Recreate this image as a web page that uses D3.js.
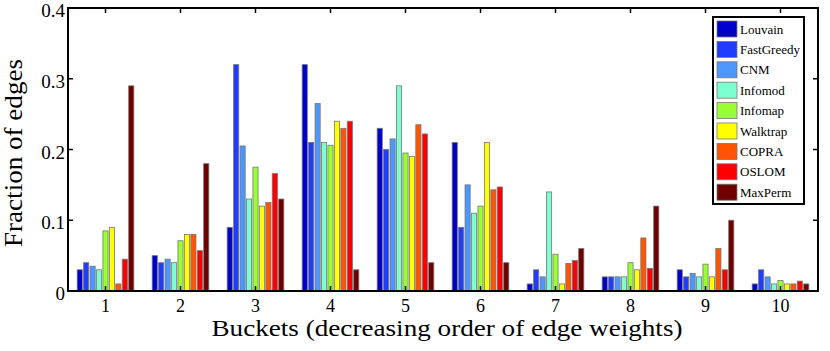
<!DOCTYPE html>
<html>
<head>
<meta charset="utf-8">
<script src="https://cdn.jsdelivr.net/npm/d3@7"></script>
<style>
  body { margin: 0; background: #fff; }
  svg text { font-family: "Liberation Serif", "Times New Roman", Times, "DejaVu Serif", serif !important; }
</style>
</head>
<body>
<div id="chart"></div>
<script>
const buckets = ['1', '2', '3', '4', '5', '6', '7', '8', '9', '10'];
const methods = ['Louvain', 'FastGreedy', 'CNM', 'Infomod', 'Infomap', 'Walktrap', 'COPRA', 'OSLOM', 'MaxPerm'];
const colors = ['#0000cc', '#1f3cff', '#4b96ff', '#7cffd0', '#99ff33', '#ffff00', '#ff5500', '#ff0000', '#6e0000'];
const yTicks = [0, 0.1, 0.2, 0.3, 0.4];

// one array per method, values for buckets 1..10
const louvain    = [0.03, 0.05, 0.09, 0.32, 0.23, 0.21, 0.01, 0.02, 0.03, 0.01];
const fastGreedy = [0.04, 0.04, 0.32, 0.21, 0.20, 0.09, 0.03, 0.02, 0.02, 0.03];
const cnm        = [0.035, 0.045, 0.205, 0.265, 0.215, 0.15, 0.02, 0.02, 0.025, 0.02];
const infomod    = [0.03, 0.04, 0.13, 0.21, 0.29, 0.11, 0.14, 0.02, 0.02, 0.01];
const infomap    = [0.085, 0.071, 0.175, 0.206, 0.195, 0.12, 0.052, 0.04, 0.038, 0.015];
const walktrap   = [0.09, 0.08, 0.12, 0.24, 0.19, 0.21, 0.01, 0.03, 0.02, 0.01];
const copra      = [0.01, 0.08, 0.125, 0.23, 0.235, 0.143, 0.039, 0.075, 0.06, 0.01];
const oslom      = [0.045, 0.057, 0.166, 0.24, 0.222, 0.147, 0.043, 0.032, 0.03, 0.014];
const maxPerm    = [0.29, 0.18, 0.13, 0.03, 0.04, 0.04, 0.06, 0.12, 0.10, 0.01];

const series = [louvain, fastGreedy, cnm, infomod, infomap, walktrap, copra, oslom, maxPerm];

const width = 830, height = 351;
const margin = { top: 8, right: 12, bottom: 60, left: 68 };
const w = width - margin.left - margin.right;
const h = height - margin.top - margin.bottom;

const svg = d3.select('#chart').append('svg')
    .attr('width', width)
    .attr('height', height);

const g = svg.append('g')
    .attr('transform', `translate(${margin.left},${margin.top})`);

const x = d3.scaleBand()
    .domain(buckets)
    .range([0, w])
    .paddingInner(0.21)
    .paddingOuter(0.105);

const xInner = d3.scaleBand()
    .domain(methods)
    .range([0, x.bandwidth()])
    .padding(0.2);

const y = d3.scaleLinear()
    .domain([0, 0.4])
    .range([h, 0]);

// bars
const groups = g.selectAll('.group')
    .data(buckets)
    .enter().append('g')
    .attr('class', 'group')
    .attr('transform', d => `translate(${x(d)},0)`);

groups.selectAll('rect')
    .data((b, i) => methods.map((m, j) => ({ method: m, value: series[j][i], color: colors[j] })))
    .enter().append('rect')
    .attr('x', d => xInner(d.method))
    .attr('y', d => y(d.value))
    .attr('width', xInner.bandwidth())
    .attr('height', d => h - y(d.value))
    .attr('fill', d => d.color)
    .attr('stroke', '#777')
    .attr('stroke-width', 0.8);

// axes (box with inward ticks)
const xCenter = b => x(b) + x.bandwidth() / 2;

const xAxis = g.append('g')
    .attr('transform', `translate(0,${h})`)
    .call(d3.axisBottom(x).tickSize(0).tickPadding(8));
xAxis.select('.domain').remove();
xAxis.selectAll('text').attr('font-size', 18).attr('fill', '#000');

const yAxis = g.append('g')
    .call(d3.axisLeft(y).tickValues(yTicks).tickSize(0).tickPadding(3).tickFormat(d3.format('')));
yAxis.select('.domain').remove();
yAxis.selectAll('text').attr('font-size', 19).attr('fill', '#000').attr('dy', '0.45em');

// tick marks
const tickLen = 5;
buckets.forEach(b => {
    g.append('line').attr('x1', xCenter(b)).attr('x2', xCenter(b))
        .attr('y1', h).attr('y2', h - tickLen).attr('stroke', '#000').attr('stroke-width', 1.5);
    g.append('line').attr('x1', xCenter(b)).attr('x2', xCenter(b))
        .attr('y1', 0).attr('y2', tickLen).attr('stroke', '#000').attr('stroke-width', 1.5);
});
yTicks.forEach(t => {
    g.append('line').attr('x1', 0).attr('x2', tickLen)
        .attr('y1', y(t)).attr('y2', y(t)).attr('stroke', '#000').attr('stroke-width', 1.5);
    g.append('line').attr('x1', w).attr('x2', w - tickLen)
        .attr('y1', y(t)).attr('y2', y(t)).attr('stroke', '#000').attr('stroke-width', 1.5);
});

g.append('rect')
    .attr('x', 0).attr('y', 0)
    .attr('width', w).attr('height', h)
    .attr('fill', 'none')
    .attr('stroke', '#000')
    .attr('stroke-width', 2);

// axis titles
svg.append('text')
    .attr('x', 447)
    .attr('y', 336)
    .attr('text-anchor', 'middle')
    .attr('font-size', 23)
    .attr('textLength', 471)
    .attr('lengthAdjust', 'spacingAndGlyphs')
    .text('Buckets (decreasing order of edge weights)');

svg.append('text')
    .attr('transform', 'translate(22,153) rotate(-90)')
    .attr('text-anchor', 'middle')
    .attr('font-size', 25)
    .attr('textLength', 188)
    .attr('lengthAdjust', 'spacingAndGlyphs')
    .text('Fraction of edges');

// legend
const legend = svg.append('g')
    .attr('transform', 'translate(713,17)');

legend.append('rect')
    .attr('width', 91).attr('height', 187)
    .attr('fill', '#fff')
    .attr('stroke', '#000')
    .attr('stroke-width', 2);

const items = legend.selectAll('.item')
    .data(methods)
    .enter().append('g')
    .attr('class', 'item')
    .attr('transform', (d, i) => `translate(4,${4 + i * 20.4})`);

items.append('rect')
    .attr('width', 20).attr('height', 16)
    .attr('fill', (d, i) => colors[i])
    .attr('stroke', '#777')
    .attr('stroke-width', 0.8);

items.append('text')
    .attr('x', 23).attr('y', 12.5)
    .attr('font-size', 13)
    .text(d => d);
</script>
</body>
</html>
